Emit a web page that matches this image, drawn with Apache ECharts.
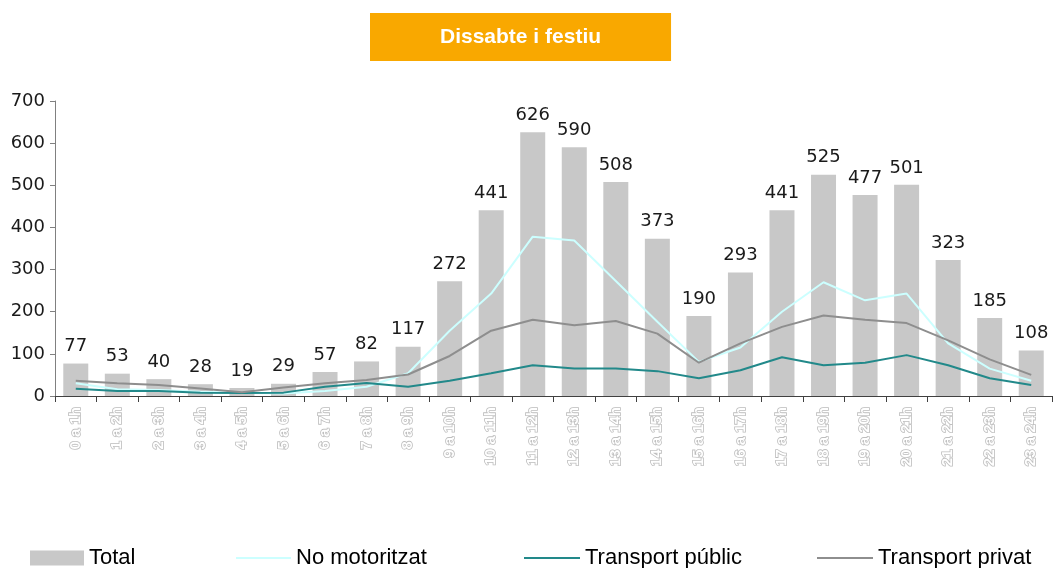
<!DOCTYPE html>
<html>
<head>
<meta charset="utf-8">
<script src="https://cdn.jsdelivr.net/npm/echarts@6/dist/echarts.min.js"></script>
<style>
html,body{margin:0;padding:0;background:#fff;}
#chart{width:1057px;height:568px;}
</style>
</head>
<body>
<div id="chart"></div>
<script>
const categories = ['0 a 1h','1 a 2h','2 a 3h','3 a 4h','4 a 5h','5 a 6h','6 a 7h','7 a 8h','8 a 9h','9 a 10h','10 a 11h','11 a 12h','12 a 13h','13 a 14h','14 a 15h','15 a 16h','16 a 17h','17 a 18h','18 a 19h','19 a 20h','20 a 21h','21 a 22h','22 a 23h','23 a 24h'];
const total = [77,53,40,28,19,29,57,82,117,272,441,626,590,508,373,190,293,441,525,477,501,323,185,108];
const noMotoritzat = [30,16,14,10,8,6,12,22,54,155,243,378,369,273,176,81,115,200,270,227,243,125,65,36];
const transportPublic = [17,12,12,8,7,8,22,31,22,36,54,73,65,65,59,42,61,92,73,79,97,73,42,26];
const transportPrivat = [36,30,26,18,9,20,30,38,51,95,155,181,168,178,148,79,125,164,191,181,173,132,87,50];
const yTicks = [0,100,200,300,400,500,600,700];

const chart = echarts.init(document.getElementById('chart'));
const legendText = {fontFamily:'Liberation Sans', fontSize:22, color:'#000'};
function legendFor(name, left, opts){
  return Object.assign({data:[name], left:left, top:547, itemGap:0, textStyle:legendText, selectedMode:false, padding:0}, opts);
}
chart.setOption({
  animation:false,
  title:{
    text:'Dissabte i festiu', left:370, top:13,
    backgroundColor:'#F9A800',
    padding:[13,70,13,70],
    textStyle:{color:'#fff', fontFamily:'Liberation Sans', fontWeight:'bold', fontSize:21, lineHeight:22}
  },
  legend:[
    legendFor('Total', 30, {icon:'rect', itemWidth:54, itemHeight:15}),
    legendFor('No motoritzat', 236, {icon:'rect', itemWidth:55, itemHeight:2}),
    legendFor('Transport públic', 524, {icon:'rect', itemWidth:56, itemHeight:2}),
    legendFor('Transport privat', 817, {icon:'rect', itemWidth:56, itemHeight:2})
  ],
  grid:{left:55, right:5, top:101, bottom:172, containLabel:false},
  xAxis:{
    type:'category', data:categories, boundaryGap:true,
    axisLine:{lineStyle:{color:'#404040', width:1}},
    axisTick:{show:true, alignWithLabel:false, length:6, lineStyle:{color:'#404040'}},
    axisLabel:{rotate:90, interval:0, margin:11, fontFamily:'Liberation Sans', fontWeight:'bold', fontSize:15,
      color:'#ffffff', textBorderColor:'#bdbdbd', textBorderWidth:1.6}
  },
  yAxis:{
    type:'value', min:0, max:700, interval:100,
    axisLine:{show:true, lineStyle:{color:'#808080', width:1}},
    axisTick:{show:true, length:5, lineStyle:{color:'#808080'}},
    splitLine:{show:false},
    axisLabel:{margin:10, fontFamily:'DejaVu Sans', fontSize:18, color:'#1a1a1a',
      formatter:function(v){ return yTicks.indexOf(v) >= 0 ? String(v) : ''; }}
  },
  series:[
    {name:'Total', type:'bar', data:total, barWidth:25, itemStyle:{color:'#C8C8C8'},
      label:{show:true, position:'top', distance:8, fontFamily:'DejaVu Sans', fontSize:18, color:'#1a1a1a'}},
    {name:'No motoritzat', type:'line', data:noMotoritzat, symbol:'none', lineStyle:{color:'#CCFFFF', width:2}, itemStyle:{color:'#CCFFFF'}, z:3},
    {name:'Transport públic', type:'line', data:transportPublic, symbol:'none', lineStyle:{color:'#22898A', width:2}, itemStyle:{color:'#22898A'}, z:3},
    {name:'Transport privat', type:'line', data:transportPrivat, symbol:'none', lineStyle:{color:'#8E8E8E', width:2}, itemStyle:{color:'#8E8E8E'}, z:3}
  ]
});
</script>
</body>
</html>
